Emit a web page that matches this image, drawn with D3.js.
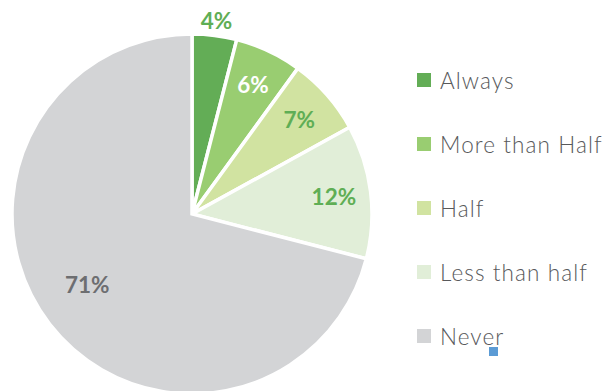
<!DOCTYPE html>
<html>
<head>
<meta charset="utf-8">
<script src="https://cdn.jsdelivr.net/npm/d3@7"></script>
<style>
  html, body { margin: 0; padding: 0; background: #fff; }
  svg { display: block; }
</style>
</head>
<body>
<svg id="chart" width="607" height="391"></svg>
<script>
// Survey answer categories and their shares (percent)
const categories = ["Always", "More than Half", "Half", "Less than half", "Never"];
const shares = [4, 6, 7, 12, 71];
const sliceColors = ["#63ad56", "#99cd71", "#d1e3a1", "#e1eed8", "#d3d4d6"];
const labelColors = ["#5fae55", "#ffffff", "#5fae55", "#5fae55", "#6d6e71"];

const svg = d3.select("#chart");
const cx = 192, cy = 214, radius = 180;

const data = categories.map((c, i) => ({ name: c, value: shares[i], i }));

const pie = d3.pie().sort(null).value(d => d.value);
const arcs = pie(data);
const arc = d3.arc().innerRadius(0).outerRadius(radius);

const g = svg.append("g").attr("transform", `translate(${cx},${cy})`);

g.selectAll("path.slice")
  .data(arcs)
  .enter().append("path")
  .attr("class", "slice")
  .attr("d", arc)
  .attr("fill", d => sliceColors[d.data.i])
  .attr("stroke", "#fff")
  .attr("stroke-width", 3.5)
  .attr("stroke-linejoin", "miter");

// Percentage labels: the small first slice gets its label outside the rim
function labelPos(d) {
  const a = (d.startAngle + d.endAngle) / 2;
  let r = 143, shift = 0;
  if (d.index === 0) r = 195;
  if (d.index === 4) { r = 126; shift = 0.07; }
  return [Math.sin(a + shift) * r, -Math.cos(a + shift) * r];
}

g.selectAll("text.pct")
  .data(arcs)
  .enter().append("text")
  .attr("class", "pct")
  .attr("x", d => labelPos(d)[0])
  .attr("y", d => labelPos(d)[1])
  .attr("text-anchor", "middle")
  .attr("dominant-baseline", "central")
  .attr("font-family", "Lato, 'Open Sans', sans-serif")
  .attr("font-weight", 700)
  .attr("font-size", 22.5)
  .attr("fill", d => labelColors[d.data.i])
  .text(d => d.data.value + "%");

// Legend
const legendY = d3.scalePoint().domain(categories).range([80, 336]);
const legend = svg.append("g");
const items = legend.selectAll("g.item")
  .data(data)
  .enter().append("g")
  .attr("class", "item")
  .attr("transform", d => `translate(417,${legendY(d.name)})`);

items.append("rect")
  .attr("x", 0).attr("y", -7)
  .attr("width", 14).attr("height", 14)
  .attr("fill", d => sliceColors[d.i]);

items.append("text")
  .attr("x", 23)
  .attr("y", 0)
  .attr("dominant-baseline", "central")
  .attr("font-family", "Lato, 'Open Sans', sans-serif")
  .attr("font-weight", 300)
  .attr("font-size", 22.5)
  .attr("letter-spacing", 1.1)
  .attr("fill", "#58595b")
  .text(d => d.name);

// small marker beneath the legend
svg.append("rect")
  .attr("x", 489).attr("y", 347)
  .attr("width", 9).attr("height", 9)
  .attr("fill", "#5b9bd5");
</script>
</body>
</html>
